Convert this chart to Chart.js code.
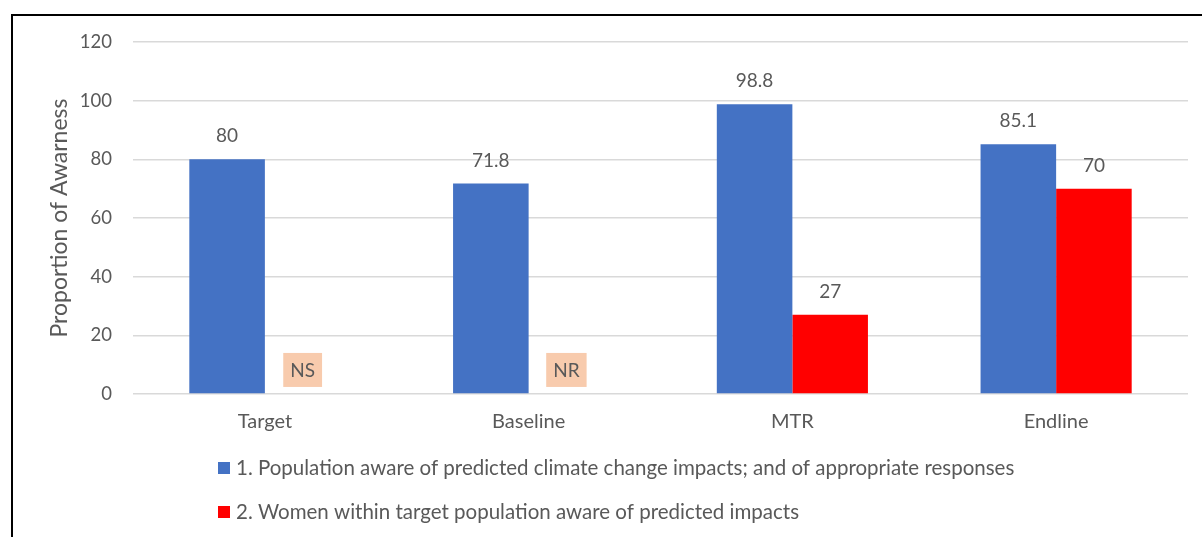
<!DOCTYPE html>
<html>
<head>
<meta charset="utf-8">
<script src="https://cdn.jsdelivr.net/npm/chart.js@4"></script>
<style>
  html, body { margin: 0; padding: 0; background: #fff; }
  #frame { position: absolute; left: 11px; top: 14px; width: 1300px; height: 600px;
           border-top: 2px solid #000; border-left: 2px solid #000; }
  #wrap { position: absolute; left: 0; top: 0; width: 1202px; height: 537px; }
</style>
</head>
<body>
<div id="frame"></div>
<div id="wrap"><canvas id="chart_awareness"></canvas></div>
<script>
var categories = ['Target', 'Baseline', 'MTR', 'Endline'];
var populationAware = [80, 71.8, 98.8, 85.1];
var womenAware = [null, null, 27, 70];
var womenNotes = ['NS', 'NR', null, null];
var seriesNames = [
    '1. Population aware of predicted climate change impacts; and of appropriate responses',
    '2. Women within target population aware of predicted impacts'
];
var yTicks = [0, 20, 40, 60, 80, 100, 120];

var textColor = '#595959';
var fontFamily = 'Lato, "Liberation Sans", sans-serif';

var chart_awareness = new Chart(document.getElementById('chart_awareness'), {
    type: 'bar',
    data: {
        labels: categories,
        datasets: [
            {
                label: seriesNames[0],
                data: populationAware,
                backgroundColor: '#4472C4',
                barPercentage: 1,
                categoryPercentage: 0.573
            },
            {
                label: seriesNames[1],
                data: womenAware,
                backgroundColor: '#FF0000',
                barPercentage: 1,
                categoryPercentage: 0.573
            }
        ]
    },
    options: {
        animation: false,
        responsive: true,
        maintainAspectRatio: false,
        layout: {
            padding: { left: 46, right: 14, top: 42, bottom: 95 }
        },
        plugins: {
            legend: { display: false },
            tooltip: { enabled: false }
        },
        scales: {
            x: {
                grid: { display: false },
                border: { display: false },
                ticks: {
                    color: textColor,
                    font: { family: fontFamily, size: 20 },
                    padding: 8
                }
            },
            y: {
                min: 0,
                max: 120,
                afterBuildTicks: function(scale) {
                    scale.ticks = yTicks.map(function(v) { return { value: v }; });
                },
                afterFit: function(scale) {
                    scale.width = 87;
                },
                grid: { color: '#D9D9D9', lineWidth: 1.5, drawTicks: false },
                border: { display: false },
                ticks: {
                    color: textColor,
                    font: { family: fontFamily, size: 18.5 },
                    padding: 21
                },
                title: {
                    display: true,
                    text: 'Proportion of Awarness',
                    color: textColor,
                    font: { family: fontFamily, size: 23 },
                    padding: { top: 0, bottom: 0 }
                }
            }
        }
    },
    plugins: [{
        id: 'valueLabels',
        afterDatasetsDraw: function(chart) {
            var ctx = chart.ctx;
            var yScale = chart.scales.y;
            ctx.save();
            ctx.font = '19px ' + fontFamily;
            ctx.fillStyle = textColor;
            ctx.textAlign = 'center';
            ctx.textBaseline = 'middle';
            chart.data.datasets.forEach(function(ds, di) {
                var meta = chart.getDatasetMeta(di);
                meta.data.forEach(function(bar, i) {
                    var v = ds.data[i];
                    if (v === null || v === undefined) return;
                    ctx.fillText(String(v), bar.x, bar.y - 23);
                });
            });
            // NS / NR notes where the women series is missing
            var meta0 = chart.getDatasetMeta(0);
            womenNotes.forEach(function(note, i) {
                if (!note) return;
                var b = meta0.data[i];
                var cx = b.x + b.width;
                var cy = yScale.getPixelForValue(8.2);
                var w = ctx.measureText(note).width + 14;
                ctx.fillStyle = '#F8CBAD';
                ctx.fillRect(cx - w / 2, cy - 17, w, 34);
                ctx.fillStyle = textColor;
                ctx.fillText(note, cx, cy + 1);
            });
            ctx.restore();
        }
    }, {
        id: 'sideLegend',
        afterDraw: function(chart) {
            var ctx = chart.ctx;
            ctx.save();
            ctx.font = '20.5px ' + fontFamily;
            ctx.textBaseline = 'middle';
            ctx.textAlign = 'left';
            chart.data.datasets.forEach(function(ds, di) {
                var y = 468 + di * 44;
                ctx.fillStyle = ds.backgroundColor;
                ctx.fillRect(218, y - 6, 12, 12);
                ctx.fillStyle = textColor;
                ctx.fillText(ds.label, 236, y);
            });
            ctx.restore();
        }
    }]
});
</script>
</body>
</html>
